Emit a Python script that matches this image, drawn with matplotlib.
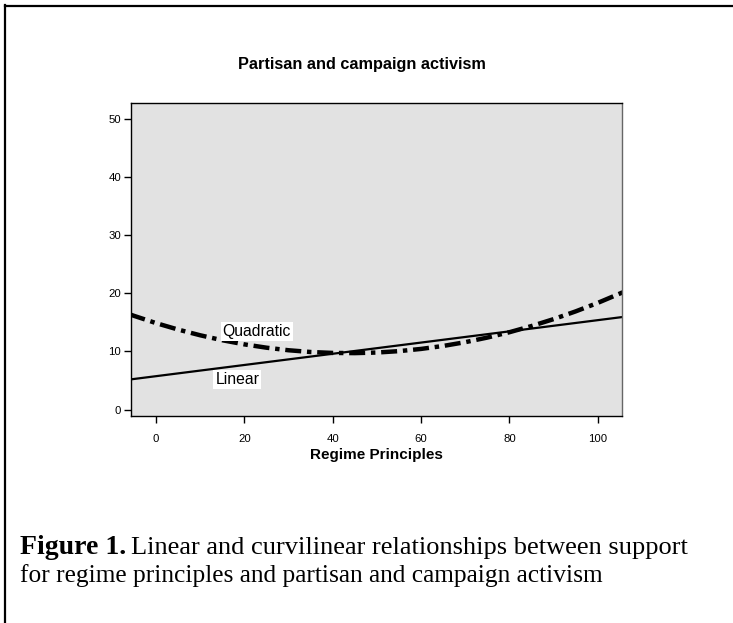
import matplotlib
matplotlib.use("Agg")
import matplotlib.pyplot as plt
from matplotlib.lines import Line2D

# Valores (Regime Principles vs activismo)
x_lineal = [-6, 106]
y_lineal = [5.17, 15.95]

x_cuadratica = [-6, -5, 0, 5, 10, 15, 20, 25, 30, 35, 40, 45, 50, 55,
                60, 65, 70, 75, 80, 85, 90, 95, 100, 105, 106]
y_cuadratica = [16.38, 16.11, 14.86, 13.75, 12.77, 11.92, 11.21, 10.64, 10.20,
                9.90, 9.74, 9.71, 9.81, 10.05, 10.43, 10.94, 11.59, 12.38,
                13.30, 14.36, 15.55, 16.88, 18.34, 19.94, 20.28]

ticks_x = [0, 20, 40, 60, 80, 100]
ticks_y = [0, 10, 20, 30, 40, 50]

W, H = 733, 623
fig = plt.figure(figsize=(W / 100, H / 100), dpi=100)
fig.patch.set_facecolor('white')

# Area del grafico en pixeles: x 131-622, y 103-416
ax = fig.add_axes([131 / W, 1 - 416 / H, (622 - 131) / W, (416 - 103) / H])
ax.set_facecolor('#e2e2e2')

ax.plot(x_lineal, y_lineal, color='black', lw=1.6, solid_capstyle='butt')
ax.plot(x_cuadratica, y_cuadratica, color='black', lw=3.2,
        dashes=(3.6, 1.3, 1.0, 1.3), dash_capstyle='butt')

ax.set_xlim(-5.7, 105.5)
ax.set_ylim(-1.1, 52.7)
ax.set_xticks(ticks_x)
ax.set_yticks(ticks_y)
ax.tick_params(direction='out', length=5, width=1, labelsize=8.2,
               colors='black')
ax.tick_params(axis='x', pad=8)
ax.tick_params(axis='y', pad=2)
for s in ax.spines.values():
    s.set_linewidth(1.0)
    s.set_color('black')
ax.spines['right'].set_color('#666666')

caja = dict(facecolor='white', edgecolor='none', pad=1.5)
ax.text(22.8, 13.4, 'Quadratic', fontsize=11.3, ha='center', va='center',
        family='Liberation Sans', bbox=caja)
ax.text(18.4, 5.1, 'Linear', fontsize=11.3, ha='center', va='center',
        family='Liberation Sans', bbox=caja)

ax.set_xlabel('Regime Principles', fontsize=11, fontweight='bold',
              family='Liberation Sans', labelpad=3)
for lab in ax.get_xticklabels() + ax.get_yticklabels():
    lab.set_family('Liberation Sans')

fig.text(362 / W, 1 - 65 / H, 'Partisan and campaign activism',
         fontsize=11.7, fontweight='bold', family='Liberation Sans',
         ha='center', va='center')

# Pie de figura
t1 = fig.text(20 / W, 1 - 548 / H, 'Figure 1.', fontsize=20, fontweight='bold',
              family='Liberation Serif', va='center')
fig.canvas.draw()
bb = t1.get_window_extent()
fig.text((bb.x1 + 5) / W, 1 - 548 / H,
         'Linear and curvilinear relationships between support',
         fontsize=19, family='Liberation Serif', va='center')
fig.text(20 / W, 1 - 576 / H,
         'for regime principles and partisan and campaign activism',
         fontsize=18.3, family='Liberation Serif', va='center')

# Borde superior e izquierdo
fig.add_artist(Line2D([5 / W, 5 / W], [0, 1 - 5 / H], color='black', lw=1.6))
fig.add_artist(Line2D([5 / W, 1], [1 - 5.5 / H, 1 - 5.5 / H], color='black', lw=1.6))

fig.savefig('out.png', dpi=100)
